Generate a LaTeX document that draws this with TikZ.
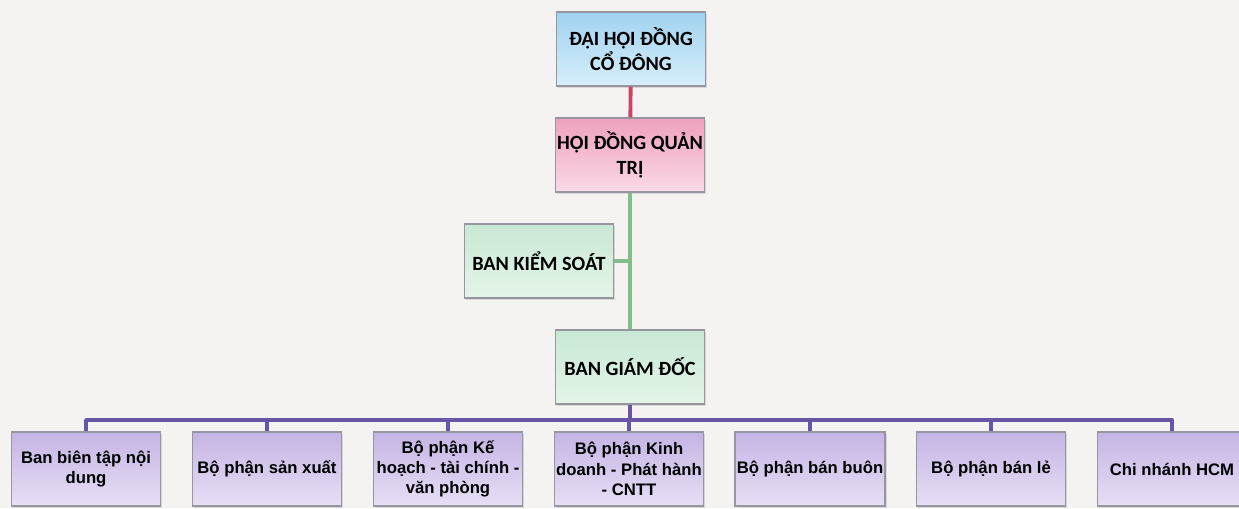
\documentclass[tikz,border=0pt]{standalone}
\usepackage{fontspec}
\setmainfont{Liberation Sans}
\newfontfamily\calib{Carlito}
\usepackage{tikz}
\usetikzlibrary{shadows}

\definecolor{paper}{RGB}{244,243,241}
\definecolor{bluetop}{RGB}{160,210,240}
\definecolor{bluebot}{RGB}{215,238,250}
\definecolor{pinktop}{RGB}{238,160,190}
\definecolor{pinkbot}{RGB}{250,218,230}
\definecolor{greentop}{RGB}{200,232,212}
\definecolor{greenbot}{RGB}{228,244,232}
\definecolor{purpletop}{RGB}{196,180,228}
\definecolor{purplebot}{RGB}{232,222,245}
\definecolor{redline}{RGB}{200,70,100}
\definecolor{greenline}{RGB}{130,190,135}
\definecolor{purpleline}{RGB}{105,85,165}
\definecolor{boxedge}{RGB}{150,150,160}

\begin{document}
\begin{tikzpicture}[x=0.02cm, y=-0.02cm,
    box/.style={draw=boxedge, line width=0.6pt, minimum width=2.98cm, minimum height=1.48cm,
        align=center, inner sep=1pt,
        drop shadow={opacity=0.25, shadow xshift=1pt, shadow yshift=-1pt}},
    topbox/.style={box, font=\calib\bfseries\fontsize{11.5}{14}\selectfont},
    unitbox/.style={box, top color=purpletop, bottom color=purplebot,
        font=\bfseries\fontsize{9.5}{11.5}\selectfont},
    link/.style={line width=2.2pt}]

    \fill[paper] (0,0) rectangle (1239,508);
    \useasboundingbox (0,0) rectangle (1239,508);

    % governing boxes
    \node[topbox, top color=bluetop, bottom color=bluebot] (dhcd) at (631,49) {ĐẠI HỘI ĐỒNG\\CỔ ĐÔNG};
    \node[topbox, top color=pinktop, bottom color=pinkbot] (hdqt) at (630,155) {HỘI ĐỒNG QUẢN\\TRỊ};
    \node[topbox, top color=greentop, bottom color=greenbot] (bks) at (539,261) {BAN KIỂM SOÁT};
    \node[topbox, top color=greentop, bottom color=greenbot] (bgd) at (630,367) {BAN GIÁM ĐỐC};

    % departments
    \node[unitbox] (u1) at (86,469) {Ban biên tập nội\\dung};
    \node[unitbox] (u2) at (267,469) {Bộ phận sản xuất};
    \node[unitbox] (u3) at (448,469) {Bộ phận Kế\\hoạch - tài chính -\\văn phòng};
    \node[unitbox] (u4) at (629,469) {Bộ phận Kinh\\doanh - Phát hành\\- CNTT};
    \node[unitbox] (u5) at (810,469) {Bộ phận bán buôn};
    \node[unitbox] (u6) at (991,469) {Bộ phận bán lẻ};
    \node[unitbox] (u7) at (1172,469) {Chi nhánh HCM};

    % connectors
    \coordinate (bus) at (630,420);
    \draw[link, redline] (dhcd) -- (hdqt);
    \draw[link, greenline] (hdqt) -- (bgd);
    \draw[link, greenline] (bks.east) -- (bks.east -| hdqt);
    \foreach \i in {1,...,7}
        \draw[link, purpleline, line join=round] (bgd.south) |- (u\i.north |- bus) -- (u\i.north);
\end{tikzpicture}
\end{document}
